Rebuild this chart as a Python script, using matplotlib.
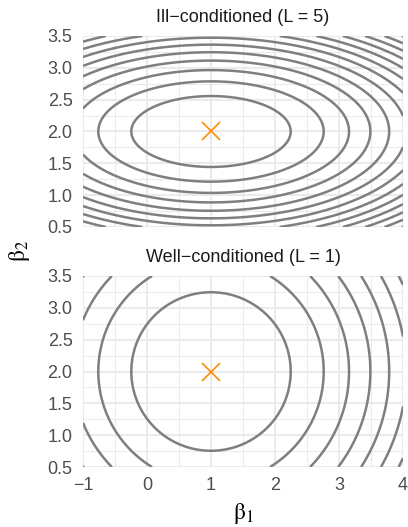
import numpy as np
import matplotlib
matplotlib.use("Agg")
import matplotlib.pyplot as plt

# Minimum of the loss and the two conditioning constants
beta_hat = [1, 2]
L_values = [5, 1]
titles = ["Ill\u2212conditioned (L = 5)", "Well\u2212conditioned (L = 1)"]

# Contour levels of f(b) = (b1 - 1)^2 + L (b2 - 2)^2
levels = [1.55, 3.1, 4.65, 6.2, 7.75, 9.3, 10.85, 12.4, 13.95, 15.5, 17.05, 18.6, 20.15]

x_ticks = [-1, 0, 1, 2, 3, 4]
y_ticks = [0.5, 1.0, 1.5, 2.0, 2.5, 3.0, 3.5]
x_minor = [-0.5, 0.5, 1.5, 2.5, 3.5]
y_minor = [0.75, 1.25, 1.75, 2.25, 2.75, 3.25]

plt.rcParams['font.family'] = ['Liberation Sans', 'DejaVu Sans']
plt.rcParams['mathtext.fontset'] = 'stix'

W, H = 408, 527
fig = plt.figure(figsize=(W / 100, H / 100), dpi=100)

# panel boxes in pixels: (left, top, right, bottom)
boxes = [(83, 36, 403, 227), (83, 276, 403, 467)]

b1 = np.linspace(-1, 4, 600)
b2 = np.linspace(0.5, 3.5, 400)
B1, B2 = np.meshgrid(b1, b2)

for i, (L, title, box) in enumerate(zip(L_values, titles, boxes)):
    l, t, r, b = box
    ax = fig.add_axes([l / W, 1 - b / H, (r - l) / W, (b - t) / H])
    ax.set_xlim(-1, 4)
    ax.set_ylim(0.5, 3.5)

    # grille façon theme_minimal
    for v in x_minor:
        ax.axvline(v, color='#EBEBEB', lw=0.75, zorder=0)
    for v in y_minor:
        ax.axhline(v, color='#EBEBEB', lw=0.75, zorder=0)
    for v in x_ticks:
        ax.axvline(v, color='#EBEBEB', lw=1.5, zorder=0)
    for v in y_ticks:
        ax.axhline(v, color='#EBEBEB', lw=1.5, zorder=0)

    F = (B1 - beta_hat[0]) ** 2 + L * (B2 - beta_hat[1]) ** 2
    ax.contour(B1, B2, F, levels=levels, colors='#7F7F7F', linewidths=1.8, zorder=2)
    ax.plot(beta_hat[0], beta_hat[1], marker='x', color='#FF8C00',
            markersize=13, markeredgewidth=1.2, zorder=3)

    for s in ax.spines.values():
        s.set_visible(False)
    ax.set_xticks(x_ticks)
    ax.set_yticks(y_ticks)
    ax.set_yticklabels([f"{v:.1f}" for v in y_ticks])
    ax.tick_params(length=0, labelsize=13, labelcolor='#4D4D4D', pad=7.5)
    if i == 0:
        ax.set_xticklabels([])
    fig.text(((l + r) / 2) / W, 1 - (t - 19) / H, title, ha='center', va='center',
             fontsize=13, color='#1A1A1A')

fig.text(243 / W, 1 - 514 / H, r'$\mathrm{\beta}_1$', ha='center', va='center', fontsize=17)
fig.text(20 / W, 1 - 251 / H, r'$\mathrm{\beta}_2$', ha='center', va='center', fontsize=17,
         rotation=90)

fig.savefig('out.png', dpi=100)
